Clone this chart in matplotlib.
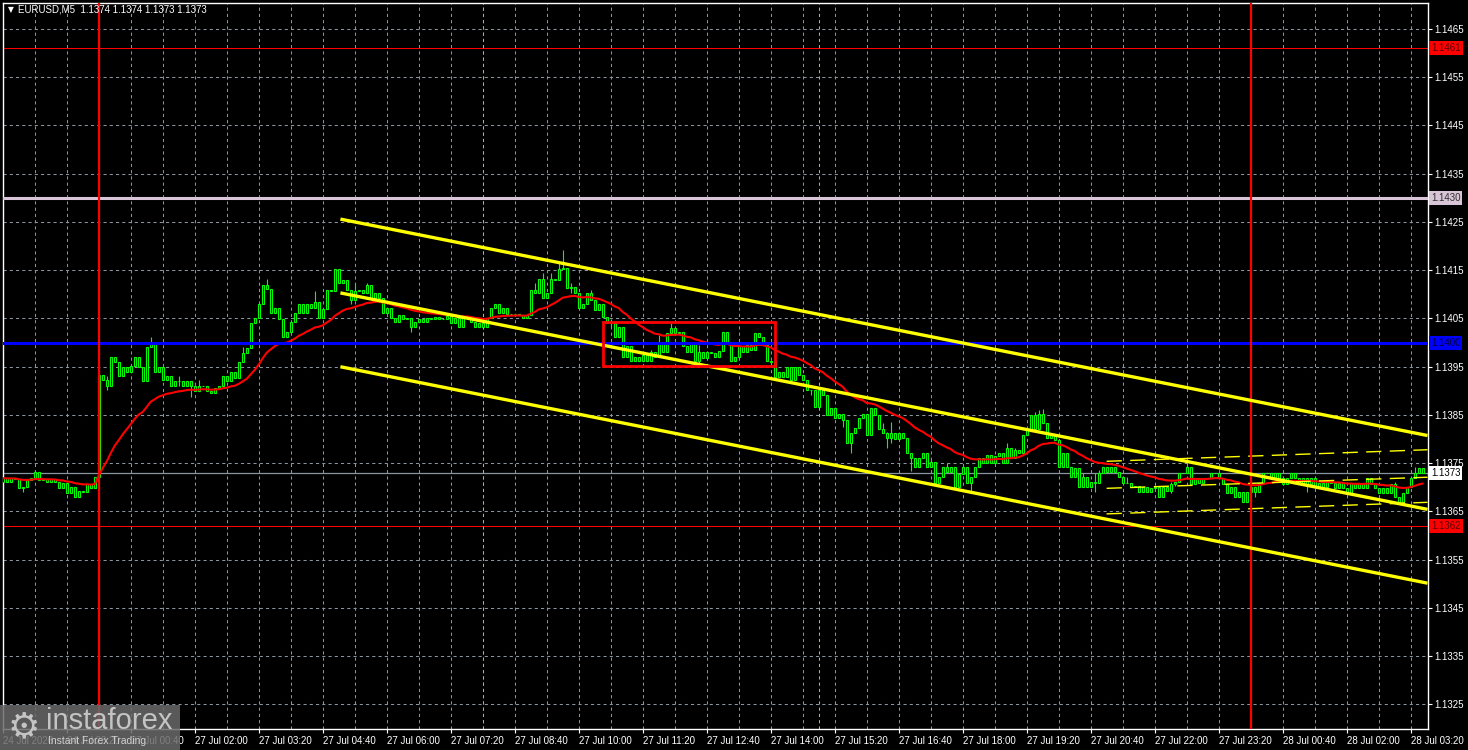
import matplotlib.pyplot as plt
from matplotlib.patches import Rectangle
import matplotlib.transforms as mtransforms
import numpy as np
import pandas as pd

plt.rcParams['font.family'] = ['Liberation Sans', 'DejaVu Sans']

# EURUSD M5, closes in pips above 1.1300 (bars 24 Jul 22:00 .. 28 Jul 03:35)
close_pips = [
    71.9, 71.2, 71.9, 71.8, 69.8, 70.1, 71.5, 71.9, 73.2, 71.6,
    71.8, 71.1, 71.7, 71.2, 69.8, 70.9, 68.8, 70.0, 68.1, 69.3,
    69.0, 70.8, 69.8, 72.1, 93.3, 92.2, 91.0, 97.1, 96.0, 93.0,
    95.0, 94.0, 95.2, 97.1, 95.0, 92.0, 99.0, 99.9, 94.0, 95.0,
    92.2, 93.0, 91.0, 92.1, 92.0, 91.0, 92.1, 91.0, 90.0, 91.0,
    91.0, 90.0, 89.5, 90.5, 91.0, 93.0, 92.1, 94.0, 92.6, 96.0,
    97.9, 98.8, 104.1, 105.0, 108.1, 112.0, 111.2, 106.1, 107.1, 104.8,
    101.2, 102.1, 104.3, 106.2, 108.1, 106.2, 108.0, 107.1, 108.5, 105.0,
    107.0, 111.0, 110.6, 115.2, 112.3, 113.0, 110.9, 108.8, 110.6, 110.9,
    110.2, 112.0, 109.2, 110.2, 109.2, 106.1, 107.1, 105.0, 104.3, 105.7,
    104.8, 105.2, 103.2, 104.3, 104.8, 104.3, 105.0, 104.8, 105.3, 104.8,
    104.8, 105.5, 104.0, 105.2, 103.2, 105.5, 105.2, 104.2, 103.2, 104.0,
    103.2, 105.2, 107.1, 108.1, 106.1, 107.1, 105.9, 106.0, 105.9, 105.7,
    105.0, 105.7, 110.9, 110.2, 113.1, 109.2, 110.2, 113.1, 113.0, 115.2,
    115.5, 111.3, 111.6, 110.2, 107.1, 108.1, 110.2, 108.8, 106.8, 108.0,
    105.4, 104.0, 104.0, 101.2, 103.3, 97.1, 99.2, 96.1, 97.1, 96.1,
    97.4, 96.1, 98.1, 97.1, 100.2, 98.1, 101.9, 103.0, 101.9, 102.3,
    99.2, 98.1, 99.8, 96.1, 98.1, 96.8, 98.1, 97.8, 97.1, 98.2,
    102.3, 100.2, 96.1, 97.1, 99.2, 98.1, 99.5, 98.5, 101.9, 101.2,
    99.5, 96.1, 96.0, 92.9, 94.0, 92.9, 95.0, 92.3, 95.0, 93.3,
    92.3, 90.2, 90.2, 86.7, 90.2, 89.1, 85.0, 86.4, 84.3, 85.3,
    84.0, 79.1, 81.2, 82.2, 84.3, 85.3, 80.9, 86.4, 85.0, 82.0,
    81.2, 80.2, 81.2, 80.0, 81.2, 80.2, 77.1, 76.0, 74.2, 76.0,
    77.1, 74.2, 75.3, 71.0, 72.1, 74.2, 73.1, 74.2, 70.0, 72.8,
    74.2, 71.0, 72.1, 74.2, 76.0, 75.0, 76.7, 75.0, 76.4, 77.1,
    75.0, 78.1, 76.0, 77.7, 77.1, 80.9, 81.9, 85.0, 82.0, 85.2,
    83.3, 80.2, 80.9, 79.8, 74.3, 77.1, 74.3, 72.1, 74.0, 70.0,
    72.1, 70.0, 71.2, 71.0, 72.9, 74.2, 73.1, 74.2, 73.1, 72.1,
    71.0, 71.0, 70.0, 70.2, 69.1, 70.1, 69.1, 69.8, 70.1, 68.1,
    70.1, 69.3, 70.8, 71.2, 72.9, 72.9, 74.3, 70.8, 71.9, 71.0,
    71.9, 71.9, 72.9, 72.9, 71.9, 70.8, 68.9, 70.1, 68.1, 69.1,
    67.0, 69.1, 70.1, 69.0, 71.0, 72.9, 72.9, 71.9, 72.9, 71.9,
    70.8, 71.9, 72.9, 71.9, 70.8, 71.9, 70.8, 71.9, 70.0, 71.0,
    70.0, 71.2, 71.0, 69.9, 71.0, 69.9, 68.9, 71.0, 69.9, 71.0,
    69.9, 71.9, 70.8, 69.9, 68.9, 69.9, 68.9, 70.8, 68.1, 67.0,
    68.9, 70.0, 71.9, 73.0, 74.0, 73.0,
]
first_open = 71.2

# visible wick extremes (pips)
wick_high = {8: 73.5, 24: 94.0, 26: 93.0, 37: 101.1, 44: 93.0, 49: 92.2, 60: 99.0,
             66: 113.1, 78: 110.6, 84: 115.2, 88: 112.3, 91: 112.3, 133: 112.3,
             135: 114.4, 137: 114.4, 139: 116.4, 140: 119.2, 142: 112.3, 147: 110.9,
             152: 104.8, 162: 98.5, 164: 101.6, 167: 104.0, 174: 99.5, 205: 90.2,
             220: 83.3, 221: 81.5, 222: 83.6, 227: 77.1, 232: 75.7, 236: 75.0,
             251: 79.1, 253: 78.1, 256: 82.6, 258: 85.7, 259: 86.0, 260: 86.2,
             270: 72.9, 273: 72.9, 274: 73.6, 278: 74.3, 281: 72.2, 292: 71.2,
             313: 70.1, 348: 71.2, 353: 74.3}
wick_low = {5: 69.0, 24: 71.5, 26: 90.2, 44: 91.0, 47: 88.8, 87: 108.1, 88: 109.9,
            102: 102.3, 142: 110.2, 152: 103.0, 174: 95.7, 192: 95.0, 202: 89.1,
            210: 82.6, 212: 77.1, 221: 78.1, 222: 79.1, 227: 73.3, 242: 69.1,
            270: 71.0, 273: 69.1, 292: 68.9, 293: 70.2, 302: 71.9, 313: 68.1,
            315: 71.9, 326: 69.1, 349: 66.8}

ma_span = 24

# regression channel (start bar, middle at start in pips, slope pips/bar, half width)
chan_start, chan_mid, chan_slope, chan_half = 84.4, 110.3, -0.165, 15.3
# short dashed channel: start bar, (top, mid, bottom) at start and at right edge
chan2_start = 276.0
chan2_at_start = [75.4, 69.8, 64.5]
chan2_at_end = [77.8, 72.1, 66.9]

box_x = [150.1, 193.1]
box_y = [95.15, 104.27]

level_1461 = 1.1461
level_1430 = 1.1430
level_1400 = 1.1400
level_1362 = 1.1362
last_price = 1.1373
day_lines = [24, 312]
session_lines = [120, 204]

xtick_pos = list(range(0, 353, 16))
xtick_labels = ['24 Jul 2026', '24 Jul 23:20', '27 Jul 00:40', '27 Jul 02:00',
                '27 Jul 03:20', '27 Jul 04:40', '27 Jul 06:00', '27 Jul 07:20',
                '27 Jul 08:40', '27 Jul 10:00', '27 Jul 11:20', '27 Jul 12:40',
                '27 Jul 14:00', '27 Jul 15:20', '27 Jul 16:40', '27 Jul 18:00',
                '27 Jul 19:20', '27 Jul 20:40', '27 Jul 22:00', '27 Jul 23:20',
                '28 Jul 00:40', '28 Jul 02:00', '28 Jul 03:20']
ytick_vals = [1.1325, 1.1335, 1.1345, 1.1355, 1.1365, 1.1375, 1.1385, 1.1395,
              1.1405, 1.1415, 1.1425, 1.1435, 1.1445, 1.1455, 1.1465]


def px(p):
    return 1.13 + np.asarray(p) / 10000.0


closes = px(close_pips)
opens = px([first_open] + close_pips[:-1])
highs = np.maximum(opens, closes)
lows = np.minimum(opens, closes)
for k, v in wick_high.items():
    highs[k] = max(highs[k], px(v))
for k, v in wick_low.items():
    lows[k] = min(lows[k], px(v))
xs = np.arange(len(closes))
ma = pd.Series(closes).ewm(span=ma_span, adjust=False).mean()

W, H = 1468, 750
fig = plt.figure(figsize=(W / 100, H / 100), dpi=100, facecolor='black')
ax = fig.add_axes([2.5 / W, 21 / H, 1425 / W, 726.5 / H])
ax.set_facecolor('black')
x_right = 356.25
ax.set_xlim(-0.1, x_right)
ax.set_ylim(1.131992, 1.147049)

# grid
gcol = '#8a949e'
ax.set_xticks(xtick_pos)
ax.set_xticks(list(range(8, 356, 16)), minor=True)
ax.set_xticklabels(xtick_labels)
ax.set_yticks(ytick_vals)
ax.set_yticklabels([f'{v:.4f}' for v in ytick_vals])
ax.grid(which='both', color=gcol, linestyle=(0, (3, 3)), linewidth=0.75, zorder=0)
ax.set_axisbelow(True)
ax.yaxis.tick_right()
ax.tick_params(axis='x', which='major', direction='out', length=3, color='white',
               labelcolor='white', labelsize=7, pad=2)
ax.tick_params(axis='x', which='minor', length=0)
ax.tick_params(axis='y', direction='out', length=3, color='white',
               labelcolor='white', labelsize=7, pad=2)
for lbl in ax.get_xticklabels():
    lbl.set_horizontalalignment('left')
for s in ax.spines.values():
    s.set_color('white')
    s.set_linewidth(1)

# candles
ax.vlines(xs, lows, highs, color='#00ff00', linewidth=0.8, zorder=2)
ax.bar(xs, closes - opens, bottom=opens, width=0.5, color='black',
       edgecolor='#00ff00', linewidth=0.8, zorder=3)

# moving average
ax.plot(xs, ma, color='red', linewidth=1.5, zorder=4)

# horizontal levels
ax.axhline(level_1461, color='red', linewidth=0.75, zorder=1)
ax.axhline(level_1362, color='red', linewidth=0.75, zorder=1)
ax.axhline(last_price, color='#8894a0', linewidth=0.9, zorder=1)
ax.axhline(level_1430, color='#d8c6d8', linewidth=2.2, zorder=5)
ax.axhline(level_1400, color='#0000ff', linewidth=2.2, zorder=5)

# vertical markers
for d in day_lines:
    ax.axvline(d, color='red', linewidth=1.6, zorder=6)
for d in session_lines:
    ax.axvline(d, color='#9acd32', linewidth=0.75, linestyle=(0, (3, 3)), zorder=1)

# regression channel
cx = np.array([chan_start, x_right])
cmid = px(chan_mid + chan_slope * (cx - chan_start))
for off in (chan_half, 0, -chan_half):
    ax.plot(cx, cmid + off / 10000.0, color='#ffff00', linewidth=2.4,
            solid_capstyle='butt', zorder=6)
for a, b in zip(chan2_at_start, chan2_at_end):
    ax.plot([chan2_start, x_right], px([a, b]), color='#ffff00', linewidth=1.0,
            linestyle=(0, (11, 6)), zorder=5)

# red box
ax.add_patch(Rectangle((box_x[0], px(box_y[0])), box_x[1] - box_x[0],
                       px(box_y[1]) - px(box_y[0]), fill=False, edgecolor='red',
                       linewidth=2.0, zorder=7))

# price labels on the right scale
tr = mtransforms.blended_transform_factory(ax.transAxes, ax.transData)
for val, fc, tc in [(level_1461, '#ff0000', '#5a0000'), (level_1430, '#d8c6d8', '#303030'),
                    (level_1400, '#0000ff', '#00003a'), (last_price, 'white', 'black'),
                    (level_1362, '#ff0000', '#5a0000')]:
    ax.text(1.0 + 3.5 / 1425, val, f'{val:.4f}', transform=tr, ha='left', va='center',
            fontsize=7, color=tc, zorder=10, clip_on=False,
            bbox=dict(boxstyle='square,pad=0.2', fc=fc, ec='none'))

# title
fig.text(8 / W, 1 - 10 / H, '\u25bc', color='white', fontsize=5.5, va='center',
         family='DejaVu Sans')
fig.text(18 / W, 1 - 10 / H, 'EURUSD,M5  1.1374 1.1374 1.1373 1.1373', color='white',
         fontsize=7, va='center')

# watermark
fig.add_artist(Rectangle((0, 0), 180 / W, 45 / H, transform=fig.transFigure,
                         facecolor='#6a6a6a', alpha=0.85, edgecolor='none', zorder=20))
fig.text(24 / W, 1 - 727 / H, '\u2699', fontsize=26, color='#c4c4c4', ha='center',
         va='center', family='DejaVu Sans', zorder=21)
fig.text(46 / W, 1 - 721 / H, 'instaforex', fontsize=21, color='#c4c4c4',
         va='center', zorder=21)
fig.text(48 / W, 1 - 741 / H, 'Instant Forex Trading', fontsize=7.5, color='#d0d0d0',
         va='center', zorder=21)

fig.savefig('out.png', dpi=100, facecolor='black')
